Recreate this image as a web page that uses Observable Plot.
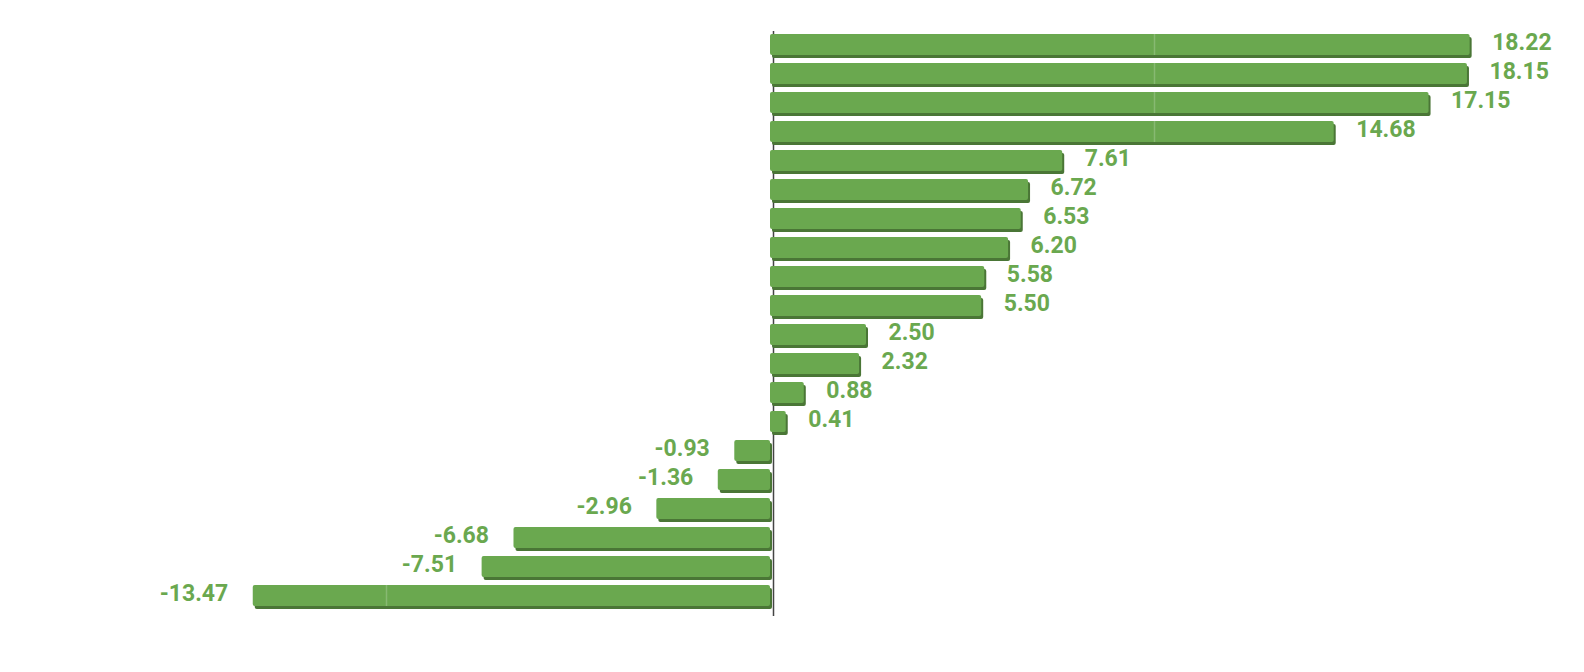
<!DOCTYPE html>
<html>
<head>
<meta charset="utf-8">
<script src="https://cdn.jsdelivr.net/npm/d3@7"></script>
<script src="https://cdn.jsdelivr.net/npm/@observablehq/plot@0.6"></script>
<style>
  html, body { margin: 0; padding: 0; background: #ffffff; }
  #chart svg { display: block; }
</style>
</head>
<body>
<div id="chart"></div>
<script>
// Row identifiers (the reference shows no category labels)
const rows = ["r1","r2","r3","r4","r5","r6","r7","r8","r9","r10",
              "r11","r12","r13","r14","r15","r16","r17","r18","r19","r20"];
const values = [18.22, 18.15, 17.15, 14.68, 7.61, 6.72, 6.53, 6.20, 5.58, 5.50,
                2.50, 2.32, 0.88, 0.41, -0.93, -1.36, -2.96, -6.68, -7.51, -13.47];
const gridValues = [-10, 10];

const data = rows.map((r, i) => ({row: r, value: values[i], label: values[i].toFixed(2)}));
const gridTicks = data.flatMap(d => gridValues
  .filter(g => (g > 0 && d.value > g) || (g < 0 && d.value < g))
  .map(g => ({row: d.row, g})));

const green = "#6aa84f";
const dark = "#4a7636";

const chart = Plot.plot({
  width: 1584,
  height: 672,
  marginTop: 31,
  marginBottom: 64,
  marginLeft: 2,
  marginRight: 46,
  style: {background: "#ffffff", fontFamily: "Roboto, sans-serif"},
  x: {domain: [-20, 20], axis: null},
  y: {domain: rows, axis: null, paddingInner: 0.28, paddingOuter: 0},
  marks: [
    Plot.ruleX([0], {stroke: "#444", strokeWidth: 1.5, dx: 3, insetBottom: -8}),
    // darker extrusion (bottom / right face)
    Plot.barX(data, {y: "row", x: "value", fill: dark, dx: 2, dy: 3, rx: 2}),
    // main face
    Plot.barX(data, {y: "row", x: "value", fill: green, rx: 2}),
    // faint grid at ±10 seen across the bars
    Plot.tickX(gridTicks, {x: "g", y: "row", stroke: "#ffffff", strokeOpacity: 0.2, strokeWidth: 1.5}),
    Plot.text(data.filter(d => d.value >= 0), {
      y: "row", x: "value", text: "label", textAnchor: "start", dx: 22, dy: -2,
      fill: green, fontSize: 23, fontWeight: "bold"
    }),
    Plot.text(data.filter(d => d.value < 0), {
      y: "row", x: "value", text: "label", textAnchor: "end", dx: -25, dy: -2,
      fill: green, fontSize: 23, fontWeight: "bold"
    })
  ]
});
document.getElementById("chart").appendChild(chart);
</script>
</body>
</html>
